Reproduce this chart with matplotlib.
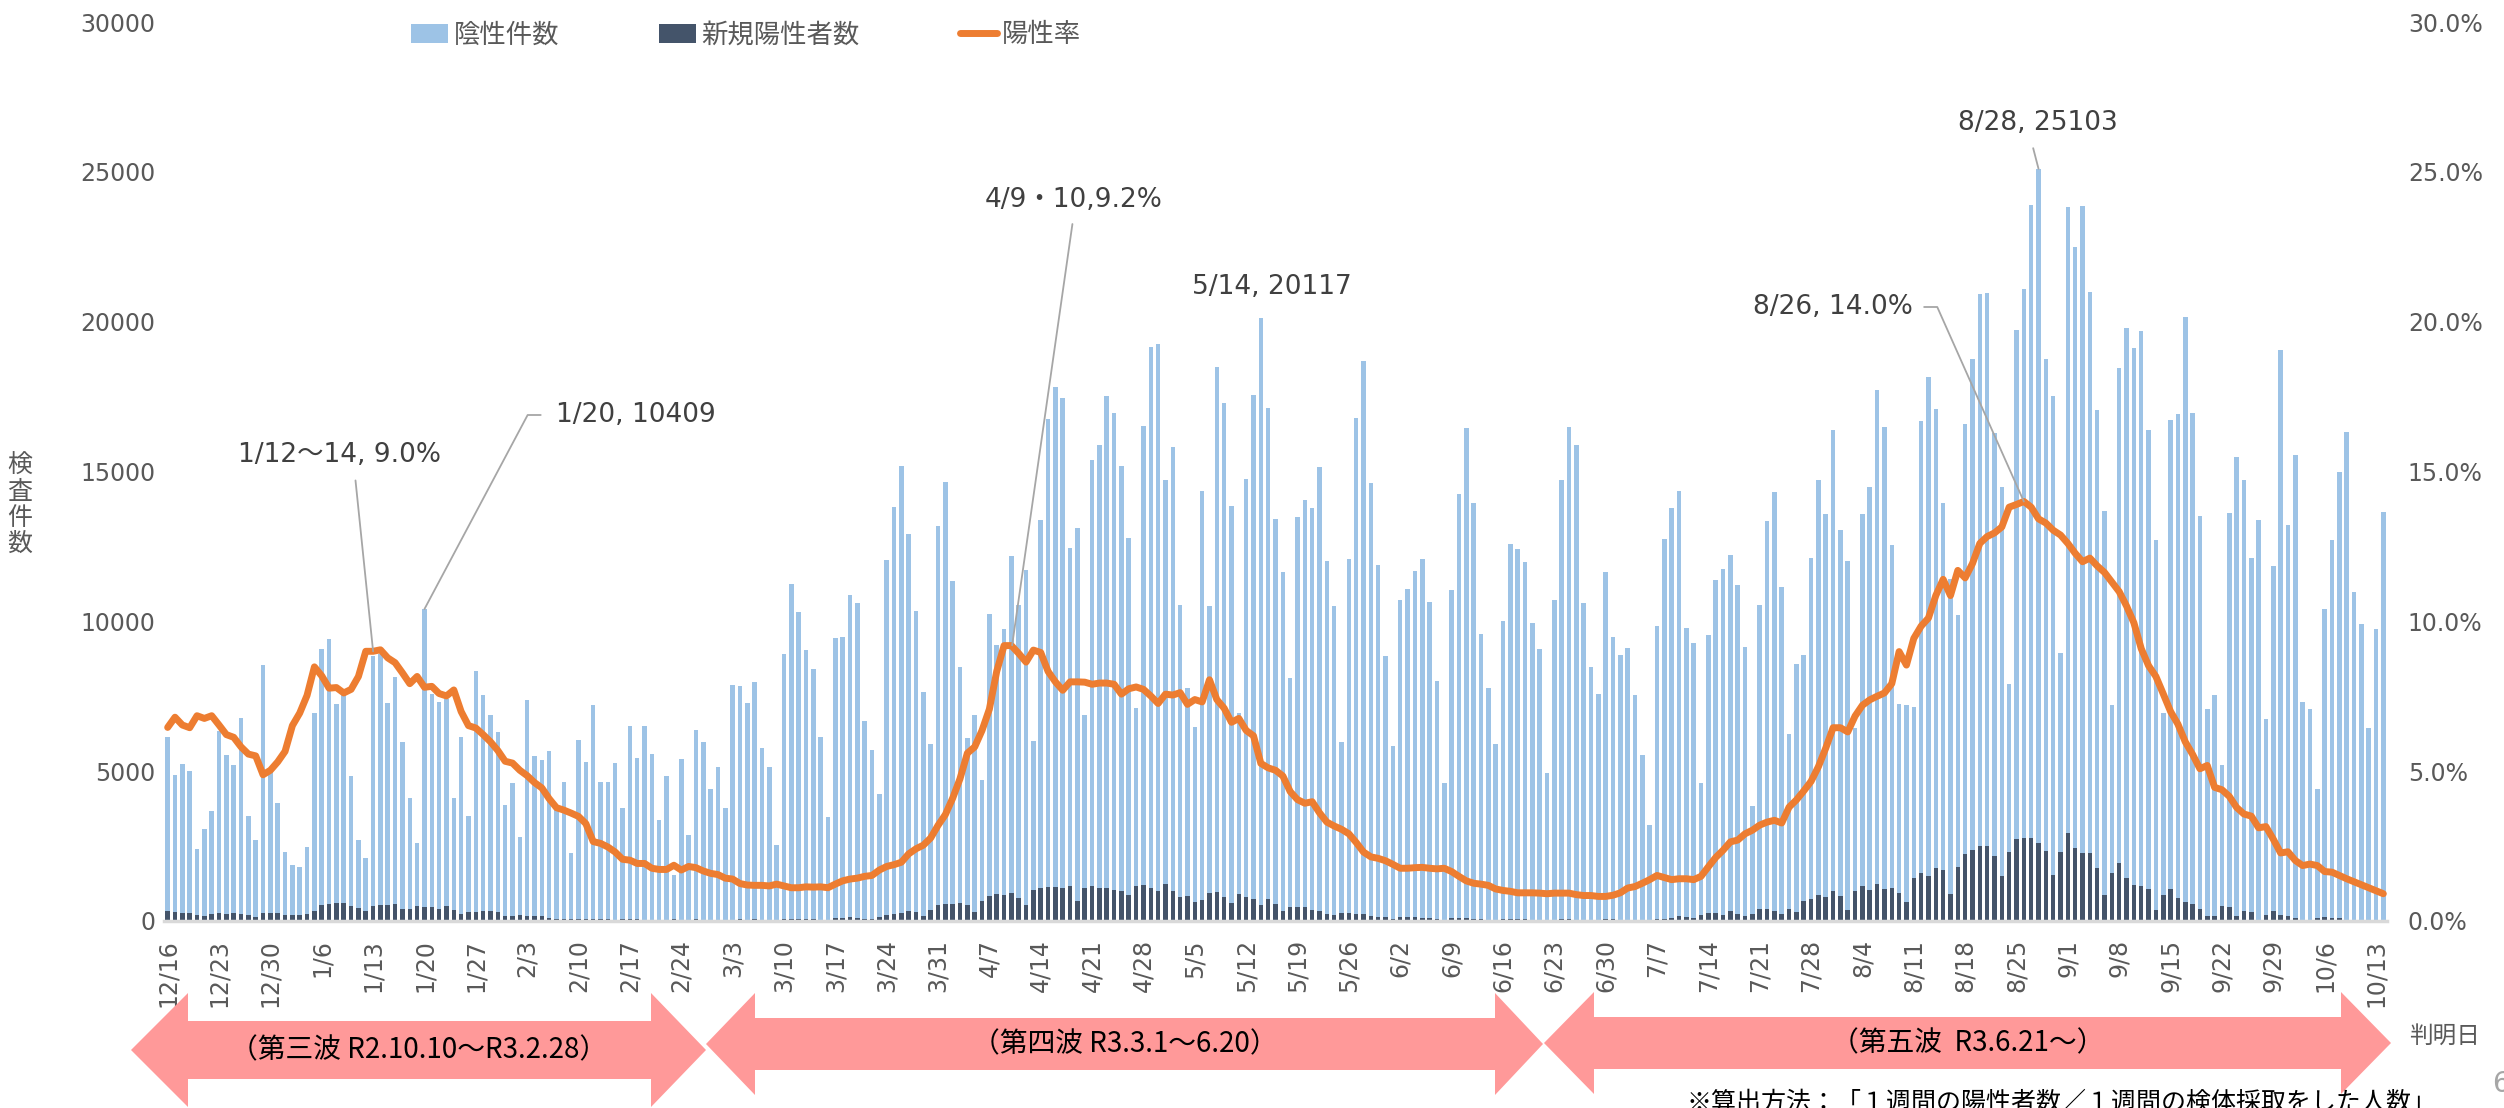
import matplotlib
matplotlib.use("Agg")
import matplotlib.pyplot as plt
from matplotlib.patches import Patch, Polygon
from matplotlib.lines import Line2D
from matplotlib.ticker import FuncFormatter
import numpy as np
import pandas as pd

plt.rcParams['font.family'] = ['DejaVu Sans', 'Noto Sans CJK JP']
JP = ['Noto Sans CJK JP', 'DejaVu Sans']

# 判明日 12/16 (R2) - 10/14 (R3)
dates = pd.date_range('2020-12-16', '2021-10-14')

# 検査件数 (bar top = 陰性件数 + 新規陽性者数)
tests = [
    6130, 4880, 5250, 5020, 2400, 3060, 3660, 6340, 5540, 5190,
    6760, 3500, 2700, 8540, 5000, 3940, 2300, 1880, 1810, 2460,
    6940, 9070, 9410, 7230, 7600, 4830, 2700, 2090, 8830, 8900,
    7260, 8150, 5980, 4120, 2590, 10409, 7570, 7320, 7410, 4100,
    6150, 3520, 8330, 7530, 6890, 6320, 3880, 4620, 2800, 7380,
    5510, 5380, 5660, 3700, 4630, 2260, 6040, 5310, 7200, 4640,
    4650, 5270, 3780, 6520, 5450, 6520, 5570, 3370, 4830, 1520,
    5390, 2870, 6360, 5970, 4400, 5130, 3780, 7890, 7830, 7290,
    7970, 5780, 5130, 2530, 8920, 11240, 10310, 9050, 8400, 6130,
    3470, 9430, 9470, 10880, 10600, 6660, 5690, 4240, 12040, 13800,
    15190, 12920, 10350, 7650, 5890, 13180, 14640, 11350, 8490, 6100,
    6870, 4710, 10230, 9210, 9740, 12180, 10560, 11710, 6000, 13390,
    16750, 17810, 17460, 12460, 13120, 6870, 15390, 15870, 17510, 16960,
    15180, 12780, 7120, 16520, 19140, 19250, 14710, 15830, 10560, 7780,
    6460, 14350, 10500, 18500, 17290, 13850, 6950, 14740, 17540, 20117,
    17110, 13410, 11630, 8120, 13480, 14050, 13780, 15150, 12020, 10500,
    5970, 12070, 16800, 18700, 14620, 11870, 8830, 5850, 10720, 11080,
    11680, 12090, 10660, 8020, 4590, 11030, 14240, 16440, 13960, 9590,
    7760, 5910, 10000, 12570, 12420, 11980, 9950, 9080, 4930, 10720,
    14710, 16490, 15900, 10610, 8460, 7590, 11630, 9490, 8880, 9120,
    7540, 5550, 3220, 9840, 12760, 13770, 14360, 9790, 9270, 4600,
    9560, 11380, 11760, 12230, 11210, 9150, 3850, 10530, 13340, 14330,
    11130, 6250, 8580, 8880, 12130, 14700, 13580, 16370, 13040, 12010,
    6450, 13580, 14490, 17720, 16490, 12560, 7250, 7200, 7150, 16670,
    18170, 17080, 13950, 11400, 10220, 16580, 18740, 20920, 20960, 16280,
    14490, 7920, 19710, 21100, 23890, 25103, 18740, 17510, 8930, 23830,
    22490, 23850, 20990, 17060, 13670, 7200, 18460, 19800, 19130, 19690,
    16370, 12710, 6940, 16730, 16920, 20150, 16940, 13520, 7070, 7540,
    5200, 13600, 15490, 14700, 12100, 13380, 6750, 11840, 19070, 13230,
    15540, 7320, 7070, 4410, 10420, 12710, 14970, 16310, 10990, 9920,
    6450, 9750, 13650,
]

# 新規陽性者数
positives = [
    330, 310, 275, 275, 215, 155, 250, 275, 250, 260,
    250, 190, 120, 260, 260, 275, 215, 215, 215, 250,
    330, 520, 570, 605, 605, 500, 440, 330, 500, 535,
    535, 580, 415, 390, 490, 475, 465, 405, 490, 370,
    250, 300, 310, 330, 320, 300, 165, 165, 200, 180,
    180, 155, 95, 70, 60, 60, 70, 80, 60, 70,
    60, 50, 80, 60, 70, 50, 40, 50, 30, 60,
    40, 50, 60, 40, 50, 40, 40, 50, 60, 50,
    60, 50, 40, 30, 60, 70, 80, 70, 60, 50,
    40, 100, 110, 120, 110, 60, 80, 150, 215, 240,
    275, 330, 285, 180, 380, 550, 570, 570, 600, 535,
    285, 675, 850, 895, 865, 925, 770, 550, 1050, 1085,
    1150, 1150, 1100, 1160, 675, 1100, 1180, 1115, 1100, 1040,
    1005, 865, 1180, 1210, 1115, 990, 1225, 1005, 800, 835,
    630, 690, 940, 975, 815, 615, 910, 800, 725, 520,
    740, 565, 330, 470, 455, 455, 360, 345, 235, 190,
    265, 265, 235, 220, 157, 140, 120, 60, 140, 130,
    130, 110, 100, 80, 40, 110, 100, 90, 80, 60,
    50, 30, 70, 60, 70, 60, 50, 40, 30, 50,
    60, 60, 50, 40, 30, 50, 60, 60, 50, 50,
    40, 30, 30, 70, 80, 100, 157, 125, 100, 190,
    283, 267, 200, 330, 220, 173, 250, 410, 410, 320,
    230, 410, 300, 680, 730, 860, 800, 1000, 820, 375,
    1000, 1160, 1020, 1250, 1070, 1110, 950, 640, 1430, 1590,
    1500, 1770, 1700, 910, 1800, 2230, 2380, 2500, 2500, 2160,
    1500, 2300, 2750, 2770, 2770, 2590, 2320, 1550, 2290, 2950,
    2450, 2270, 2270, 1770, 860, 1590, 1950, 1430, 1210, 1180,
    1060, 370, 875, 1060, 775, 640, 570, 390, 170, 170,
    505, 470, 170, 335, 300, 50, 200, 335, 200, 170,
    100, 50, 35, 100, 120, 85, 85, 50, 35, 30,
    35, 35, 35,
]

# 陽性率 (%)
rate = [
    6.46, 6.8, 6.54, 6.45, 6.85, 6.76, 6.85, 6.54, 6.22, 6.13,
    5.81, 5.57, 5.51, 4.88, 5.03, 5.31, 5.66, 6.52, 6.94, 7.53,
    8.48, 8.18, 7.77, 7.79, 7.61, 7.73, 8.16, 9.0, 9.0, 9.05,
    8.78, 8.62, 8.28, 7.92, 8.16, 7.8, 7.83, 7.59, 7.51, 7.71,
    6.99, 6.52, 6.44, 6.22, 5.98, 5.69, 5.33, 5.27, 5.03, 4.85,
    4.62, 4.44, 4.08, 3.78, 3.7, 3.6, 3.49, 3.25, 2.65, 2.59,
    2.47, 2.3, 2.06, 2.03, 1.92, 1.92, 1.76, 1.72, 1.72, 1.86,
    1.7, 1.82, 1.78, 1.67, 1.59, 1.55, 1.43, 1.4, 1.25, 1.2,
    1.19, 1.19, 1.17, 1.23, 1.17, 1.11, 1.11, 1.14, 1.13, 1.14,
    1.11, 1.23, 1.34, 1.4, 1.43, 1.49, 1.52, 1.7, 1.82, 1.88,
    1.96, 2.24, 2.41, 2.53, 2.77, 3.19, 3.55, 4.1, 4.75, 5.6,
    5.81, 6.36, 7.07, 8.33, 9.19, 9.19, 8.93, 8.64, 9.04, 8.96,
    8.33, 7.98, 7.7, 7.98, 7.98, 7.97, 7.9, 7.94, 7.94, 7.9,
    7.57, 7.75, 7.81, 7.73, 7.51, 7.26, 7.57, 7.54, 7.62, 7.23,
    7.39, 7.31, 8.05, 7.39, 7.1, 6.63, 6.76, 6.36, 6.18, 5.26,
    5.11, 5.03, 4.84, 4.32, 4.05, 3.93, 3.98, 3.61, 3.3, 3.17,
    3.06, 2.91, 2.62, 2.3, 2.14, 2.09, 2.01, 1.89, 1.76, 1.76,
    1.78, 1.79, 1.76, 1.74, 1.76, 1.65, 1.49, 1.34, 1.26, 1.23,
    1.19, 1.07, 1.02, 0.99, 0.94, 0.94, 0.94, 0.93, 0.91, 0.93,
    0.93, 0.93, 0.88, 0.85, 0.85, 0.82, 0.82, 0.86, 0.94, 1.1,
    1.15, 1.26, 1.38, 1.52, 1.45, 1.38, 1.41, 1.41, 1.38, 1.49,
    1.81, 2.12, 2.36, 2.64, 2.7, 2.91, 3.03, 3.2, 3.3, 3.36,
    3.27, 3.8, 4.04, 4.34, 4.66, 5.15, 5.77, 6.45, 6.45, 6.31,
    6.84, 7.2, 7.38, 7.5, 7.61, 7.92, 8.99, 8.54, 9.43, 9.84,
    10.11, 10.86, 11.4, 10.86, 11.7, 11.45, 11.93, 12.6, 12.83, 12.95,
    13.15, 13.81, 13.9, 14.0, 13.81, 13.42, 13.28, 13.04, 12.88, 12.6,
    12.27, 11.99, 12.11, 11.85, 11.63, 11.31, 10.99, 10.51, 9.95, 9.09,
    8.52, 8.16, 7.58, 6.99, 6.57, 5.98, 5.56, 5.08, 5.19, 4.46,
    4.38, 4.16, 3.79, 3.57, 3.5, 3.11, 3.15, 2.73, 2.27, 2.31,
    2.02, 1.85, 1.9, 1.85, 1.65, 1.63, 1.52, 1.41, 1.31, 1.21,
    1.11, 1.01, 0.91,
]

waves = ['（第三波 R2.10.10～R3.2.28）', '（第四波 R3.3.1～6.20）', '（第五波  R3.6.21～）']
note = '※算出方法：「１週間の陽性者数／１週間の検体採取をした人数」'

W, H = 2504, 1108
fig = plt.figure(figsize=(W / 100, H / 100), dpi=100)
ax = fig.add_axes([164 / W, 1 - 921 / H, (2387 - 164) / W, (921 - 22) / H])

x = np.arange(len(tests))
negatives = [t - p for t, p in zip(tests, positives)]
ax.bar(x, positives, width=0.62, color='#44546A')
ax.bar(x, negatives, bottom=positives, width=0.62, color='#9DC3E6')
ax.set_xlim(-0.5, len(x) - 0.5)
ax.set_ylim(0, 30000)
ax.set_yticks(range(0, 30001, 5000))
ax.tick_params(axis='y', length=0, labelsize=17, labelcolor='#595959', pad=6)
ax.set_xticks(x[::7])
ax.set_xticklabels([f"{d.month}/{d.day}" for d in dates[::7]], rotation=90,
                   fontsize=17, color='#595959')
ax.tick_params(axis='x', length=0, pad=13)
for s in ['top', 'right', 'left']:
    ax.spines[s].set_visible(False)
ax.spines['bottom'].set_color('#D9D9D9')
ax.spines['bottom'].set_linewidth(2.5)

ax2 = ax.twinx()
ax2.plot(x, rate, color='#ED7D31', lw=5, solid_joinstyle='round', solid_capstyle='round')
ax2.set_ylim(0, 30)
ax2.set_yticks(range(0, 31, 5))
ax2.yaxis.set_major_formatter(FuncFormatter(lambda v, p: f"{v:.1f}%"))
ax2.tick_params(axis='y', length=0, labelsize=17, labelcolor='#595959', pad=15)
for s in ax2.spines.values():
    s.set_visible(False)

# data labels
lead = dict(arrowstyle='-', color='#A6A6A6', lw=1.3, shrinkB=0)
akw = dict(textcoords='figure pixels', fontsize=19, color='#404040')
ax2.annotate('1/12～14, 9.0%', xy=(28, 9.0), xytext=(340, H - 455), ha='center', va='center',
             arrowprops=dict(lead, relpos=(0.57, 0), shrinkA=7), **akw)
ax.annotate('1/20, 10409', xy=(35, 10409), xytext=(556, H - 415), ha='left', va='center',
            arrowprops=dict(lead, relpos=(0, 0.5), shrinkA=9,
                            connectionstyle='angle,angleA=0,angleB=62'), **akw)
ax2.annotate('4/9・10,9.2%', xy=(115.1, 9.2), xytext=(1074, H - 200), ha='center', va='center',
             arrowprops=dict(lead, relpos=(0.5, 0), shrinkA=6), **akw)
ax.annotate('5/14, 20117', xy=(149, 20117), xytext=(1272, H - 287), ha='center', va='center', **akw)
ax2.annotate('8/26, 14.0%', xy=(253, 14.0), xytext=(1913, H - 307), ha='right', va='center',
             arrowprops=dict(lead, relpos=(1, 0.5), shrinkA=6,
                             connectionstyle='angle,angleA=0,angleB=114'), **akw)
ax.annotate('8/28, 25103', xy=(255, 25103), xytext=(2038, H - 123), ha='center', va='center',
            arrowprops=dict(lead, relpos=(0.45, 0), shrinkA=7), **akw)

# legend
handles = [Patch(facecolor='#9DC3E6'), Patch(facecolor='#44546A'),
           Line2D([], [], color='#ED7D31', lw=5, solid_capstyle='round')]
fig.legend(handles, ['陰性件数', '新規陽性者数', '陽性率'], loc='center left',
           bbox_to_anchor=(398 / W, 1 - 35 / H), ncol=3, frameon=False,
           prop=dict(family=JP, size=19), labelcolor='#595959', handlelength=1.4,
           handleheight=0.75, handletextpad=0.2, columnspacing=3.8, borderpad=0)

fig.text(20 / W, 1 - 505 / H, '検\n査\n件\n数', family=JP, fontsize=18, color='#595959',
         ha='center', va='center', linespacing=1.0)


def wave_arrow(x0, xb0, xb1, x1, yc, hs, hh):
    pts = [(x0, yc), (xb0, yc - hh), (xb0, yc - hs), (xb1, yc - hs), (xb1, yc - hh),
           (x1, yc), (xb1, yc + hh), (xb1, yc + hs), (xb0, yc + hs), (xb0, yc + hh)]
    return [(px / W, 1 - py / H) for px, py in pts]


arrows = [(131, 188, 651, 706, 1050, 29, 57),
          (706, 755, 1495, 1543, 1044, 26, 51),
          (1544, 1594, 2341, 2391, 1043, 26, 51)]
for a, label in zip(arrows, waves):
    fig.patches.append(Polygon(wave_arrow(*a), closed=True, facecolor='#FF9999',
                               edgecolor='none', transform=fig.transFigure))
    cx = (a[0] + a[3]) / 2
    fig.text(cx / W, 1 - a[4] / H, label, family=JP, fontsize=20, color='black',
             ha='center', va='center')

fig.text(2445 / W, 1 - 1036 / H, '判明日', family=JP, fontsize=17, color='#595959',
         ha='center', va='center')
fig.text(2492 / W, 1 - 1084 / H, '6', fontsize=20, color='#A6A6A6', ha='left', va='center')
fig.text(1686 / W, 1 - 1090 / H, note, family=JP, fontsize=18, color='black', ha='left', va='top')

fig.savefig('out.png', dpi=100)
